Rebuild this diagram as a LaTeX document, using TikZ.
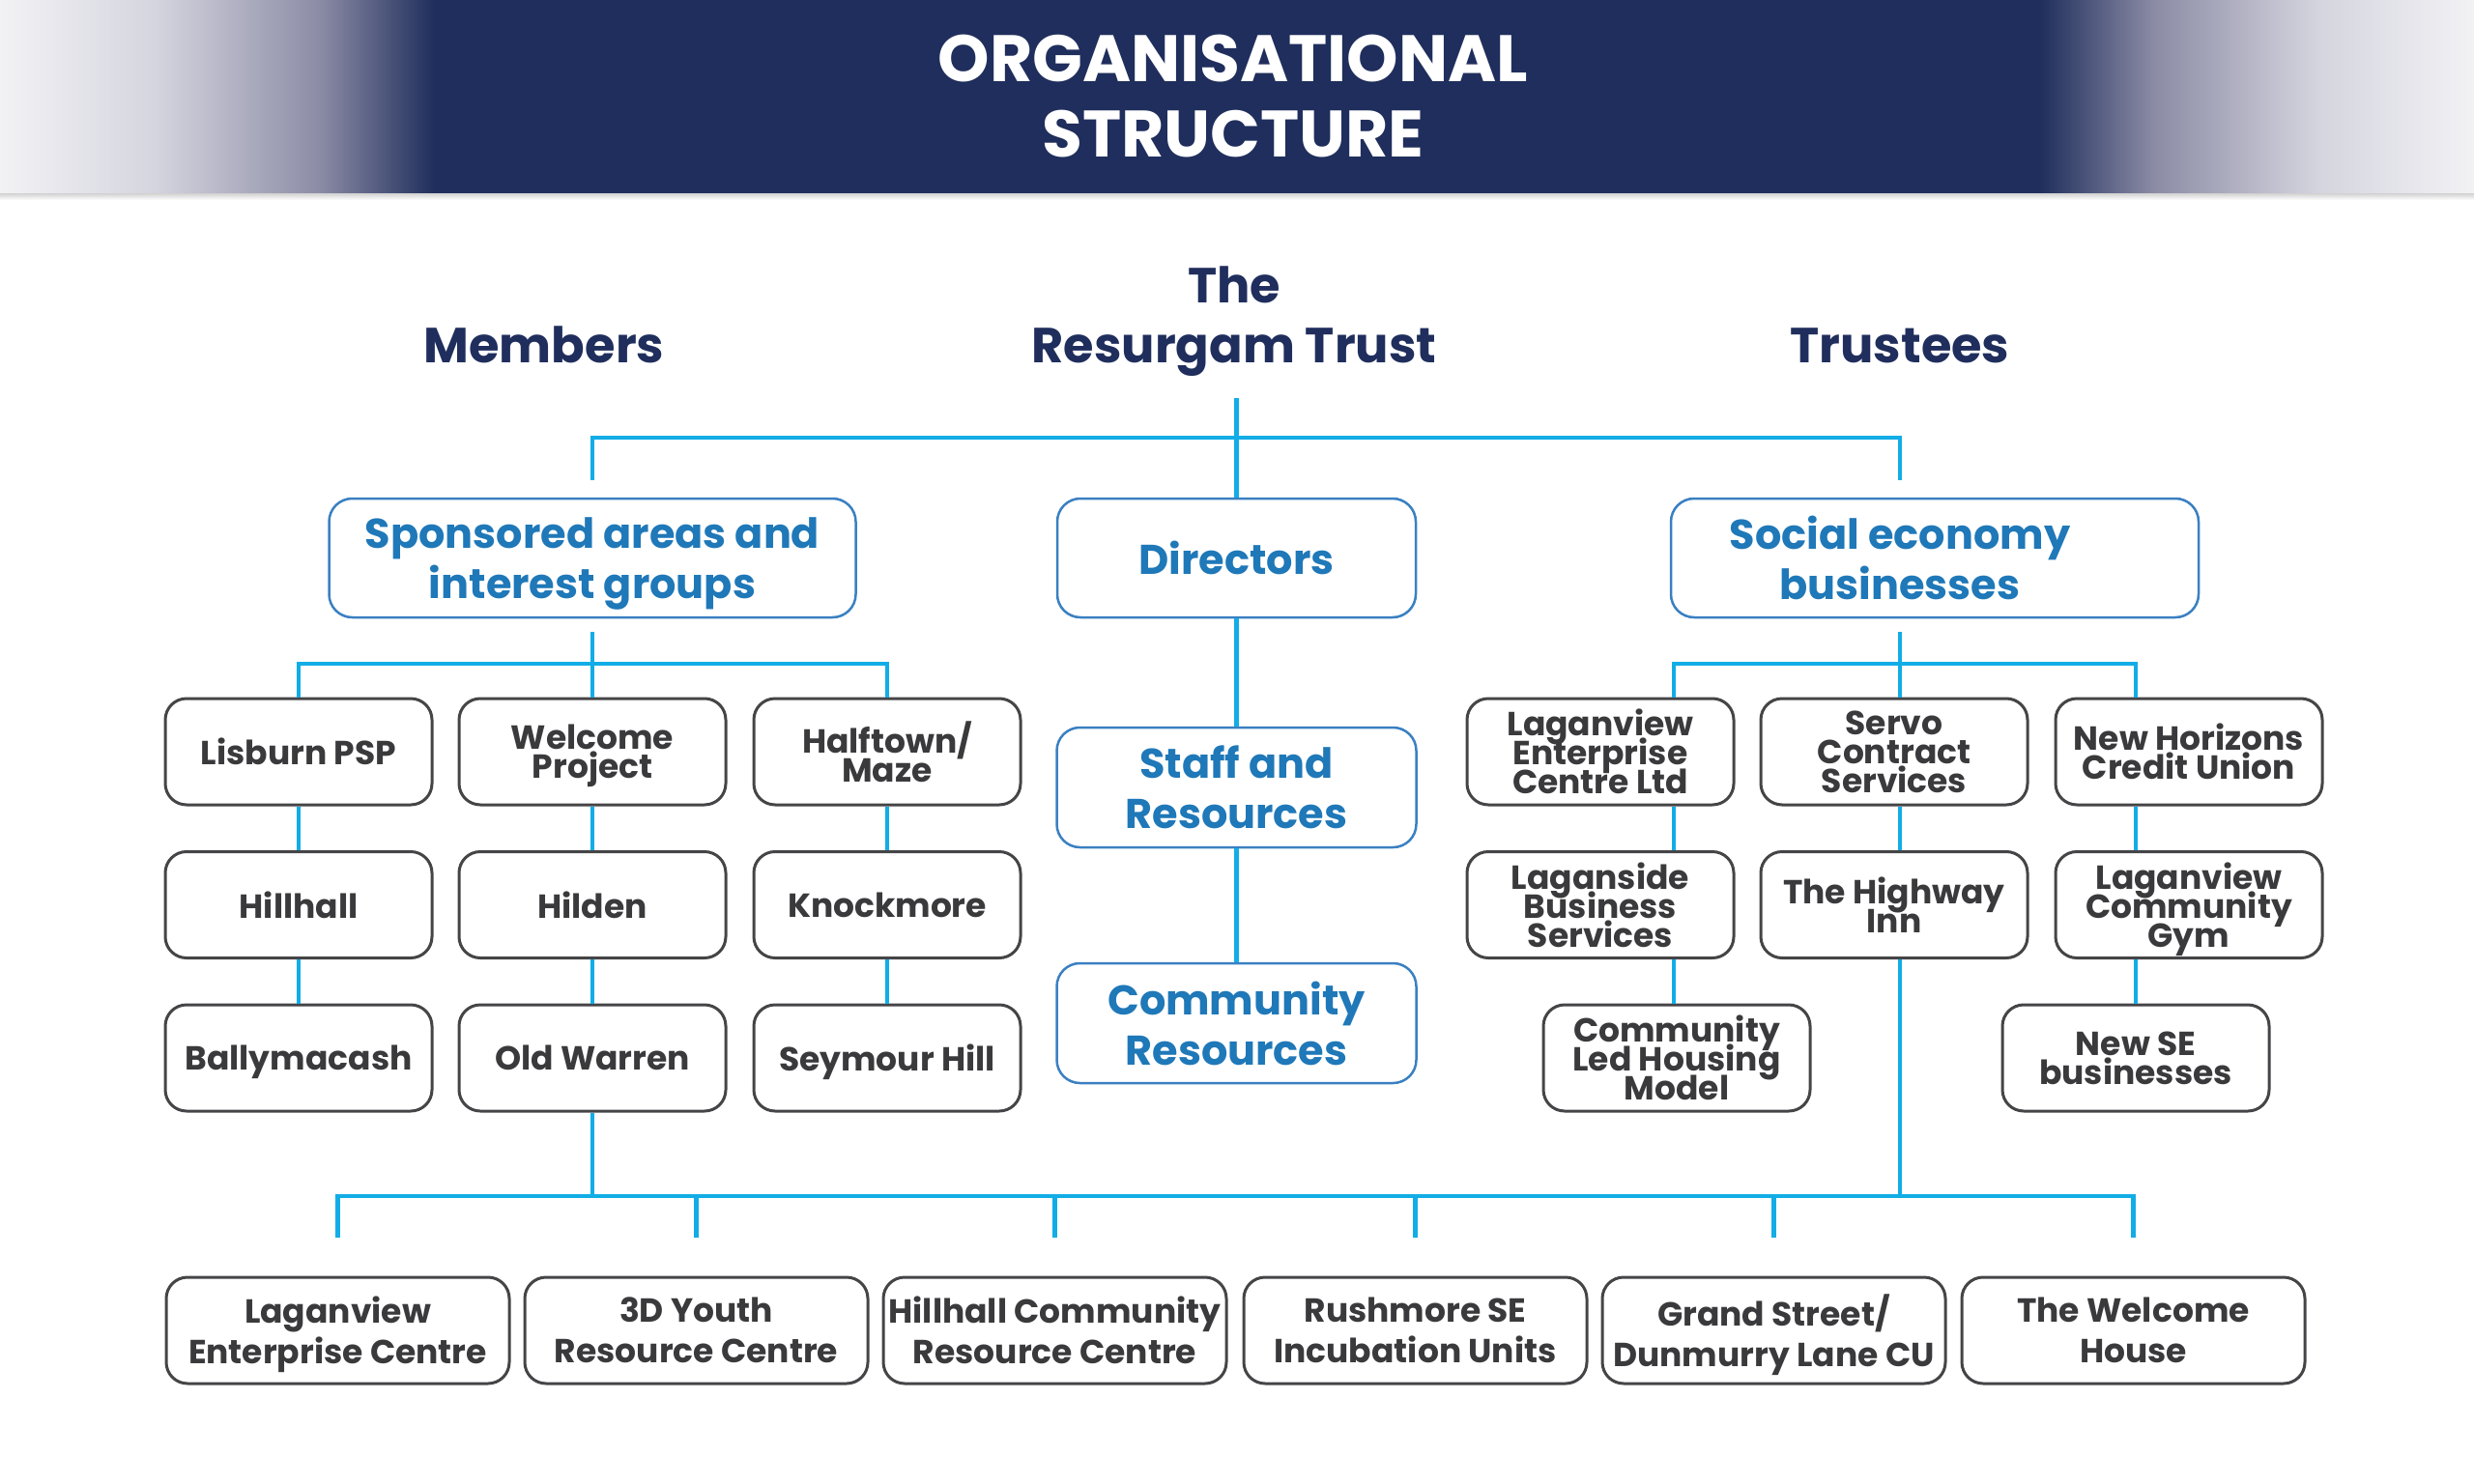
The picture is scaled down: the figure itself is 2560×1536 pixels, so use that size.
\documentclass[tikz,border=0pt]{standalone}
\usepackage{fontspec}
\setmainfont{Poppins}
\usetikzlibrary{calc}
\definecolor{navy}{HTML}{1F2E5C}
\definecolor{cyanline}{HTML}{12ADE6}
\definecolor{boxblue}{HTML}{3A80C2}
\definecolor{txtblue}{HTML}{1F78B8}
\definecolor{txtgray}{HTML}{3A3A3C}
\definecolor{boxgray}{HTML}{454547}
\definecolor{hdA}{HTML}{F2F2F5}
\definecolor{hdB}{HTML}{D5D5DF}
\definecolor{hdC}{HTML}{8C8CA6}
\newcommand{\tightlines}{\lineskiplimit=-1000pt\lineskip=0pt\relax}
\begin{document}
\begin{tikzpicture}[x=1pt,y=-1pt,
  conn/.style={draw=cyanline, line width=4.5pt},
  bluebox/.style={draw=boxblue, line width=2.5pt, rounded corners=24pt, text=txtblue,
    font=\bfseries\fontsize{43}{52}\selectfont\tightlines, align=center, inner sep=0pt,
    minimum height=123pt, text depth=0pt},
  bluetxt/.style={text=txtblue, font=\bfseries\fontsize{43}{52}\selectfont\tightlines, align=center, inner sep=0pt, text depth=0pt},
  gbox/.style={draw=boxgray, line width=3pt, rounded corners=22pt, text=txtgray,
    font=\bfseries\fontsize{34.5}{30}\selectfont\tightlines, align=center,
    minimum width=276pt, minimum height=110pt, inner sep=0pt, text depth=0pt},
  bbox/.style={gbox, minimum width=355pt, font=\bfseries\fontsize{34.5}{42}\selectfont\tightlines},
  head/.style={text=navy, font=\bfseries\fontsize{51}{62}\selectfont, inner sep=0pt, anchor=base},
  ttl/.style={text=white, font=\bfseries\fontsize{68}{78}\selectfont, inner sep=0pt, anchor=base},
]
\useasboundingbox (0,0) rectangle (2560,1536);
\fill[white] (0,0) rectangle (2560,1536);
% header band
\fill[navy] (0,0) rectangle (2560,200);
\shade[left color=hdA, right color=hdB] (0,0) rectangle (160,200);
\shade[left color=hdB, right color=hdC] (160,0) rectangle (330,200);
\shade[left color=hdC, right color=navy] (330,0) rectangle (450,200);
\shade[left color=hdB, right color=hdA] (2400,0) rectangle (2560,200);
\shade[left color=hdC, right color=hdB] (2230,0) rectangle (2400,200);
\shade[left color=navy, right color=hdC] (2110,0) rectangle (2230,200);
\shade[top color=black!18, bottom color=white] (0,200) rectangle (2560,207);
\node[ttl] (t1) at (1276,85) {ORGANISATIONAL};
\node[ttl] (t2) at (1276,163) {STRUCTURE};

% headings
\node[head] (the) at (1277,313) {The};
\node[head] (trust) at (1277,375) {Resurgam Trust};
\node[head] (members) at (563,375) {Members};
\node[head] (trustees) at (1966,375) {Trustees};

% top level boxes
\node[bluebox, minimum width=545pt] (spons) at (613,577.5) {Sponsored areas and\\interest groups};
\node[bluebox, minimum width=371pt] (dir) at (1279.5,577.5) {Directors};
\node[bluebox, minimum width=546pt] (soc) at (2002,577.5) {};
\node[bluetxt] (soclbl) at (1966,577.5) {Social economy\\businesses};
\node[bluebox, minimum width=372pt, minimum height=124pt] (staff) at (1279.5,815) {Staff and\\Resources};
\node[bluebox, minimum width=372pt, minimum height=124pt] (comres) at (1279.5,1059) {Community\\Resources};

% left tree
\node[gbox] (lis) at (309,778) {Lisburn PSP};
\node[gbox] (wel) at (613,778) {Welcome\\Project};
\node[gbox] (half) at (918,778) {Halftown/\\Maze};
\node[gbox] (hill) at (309,936.5) {Hillhall};
\node[gbox] (hild) at (613,936.5) {Hilden};
\node[gbox] (knock) at (918,936.5) {Knockmore};
\node[gbox] (bally) at (309,1095) {Ballymacash};
\node[gbox] (ow) at (613,1095) {Old Warren};
\node[gbox] (sey) at (918,1095) {Seymour Hill};

% right tree
\node[gbox] (lagA) at (1656,778) {Laganview\\Enterprise\\Centre Ltd};
\node[gbox] (servo) at (1960,778) {Servo\\Contract\\Services};
\node[gbox] (nh) at (2265,778) {New Horizons\\Credit Union};
\node[gbox] (lagB) at (1656,936.5) {Laganside\\Business\\Services};
\node[gbox] (hw) at (1960,936.5) {The Highway\\Inn};
\node[gbox] (gym) at (2265,936.5) {Laganview\\Community\\Gym};
\node[gbox] (clhm) at (1735,1095) {Community\\Led Housing\\Model};
\node[gbox] (nse) at (2210,1095) {New SE\\businesses};

% bottom row
\node[bbox] (b1) at (349.5,1377) {Laganview\\Enterprise Centre};
\node[bbox] (b2) at (720.5,1377) {3D Youth\\Resource Centre};
\node[bbox] (b3) at (1091.5,1377) {Hillhall Community\\Resource Centre};
\node[bbox] (b4) at (1464.5,1377) {Rushmore SE\\Incubation Units};
\node[bbox] (b5) at (1835.5,1377) {Grand Street/\\Dunmurry Lane CU};
\node[bbox] (b6) at (2207.5,1377) {The Welcome\\House};

% coordinates
\coordinate (topc) at (1279.5,412);
\coordinate (tbus) at (0,453);
\coordinate (lbus) at (0,687);
\coordinate (bbus) at (0,1238);
\coordinate (rc1) at (1732,0);
\coordinate (rc2) at (1966,0);
\coordinate (rc3) at (2210,0);
\coordinate (socTop) at (soc.north -| soclbl);
\coordinate (socBot) at (soc.south -| soclbl);

% top connectors
\draw[conn] (topc) -- (dir.north);
\draw[conn] ([yshift=18pt]spons.north) -- (spons.north |- tbus) -- (socTop |- tbus) -- ([yshift=18pt]socTop);
\draw[conn] (dir.south) -- (staff.north);
\draw[conn] (staff.south) -- (comres.north);

% left tree connectors
\draw[conn] ([yshift=-14pt]spons.south) -- (wel.north);
\draw[conn] (lis.north) -- (lis.north |- lbus) -- (half.north |- lbus) -- (half.north);
\draw[conn] (lis.south) -- (hill.north);
\draw[conn] (hill.south) -- (bally.north);
\draw[conn] (wel.south) -- (hild.north);
\draw[conn] (hild.south) -- (ow.north);
\draw[conn] (half.south) -- (knock.north);
\draw[conn] (knock.south) -- (sey.north);

% right tree connectors
\draw[conn] ([yshift=-14pt]socBot) -- (servo.north -| rc2);
\draw[conn] (lagA.north -| rc1) -- (rc1 |- lbus) -- (rc3 |- lbus) -- (nh.north -| rc3);
\draw[conn] (lagA.south -| rc1) -- (lagB.north -| rc1);
\draw[conn] (lagB.south -| rc1) -- (clhm.north -| rc1);
\draw[conn] (servo.south -| rc2) -- (hw.north -| rc2);
\draw[conn] (nh.south -| rc3) -- (gym.north -| rc3);
\draw[conn] (gym.south -| rc3) -- (nse.north);

% bottom bus
\draw[conn] (ow.south) -- (ow.south |- bbus);
\draw[conn] (hw.south -| rc2) -- (rc2 |- bbus);
\draw[conn] ([yshift=40pt]b1.north) -- (b1.north |- bbus) -- (b6.north |- bbus) -- ([yshift=40pt]b6.north);
\draw[conn] (b2.north |- bbus) -- ([yshift=40pt]b2.north);
\draw[conn] (b3.north |- bbus) -- ([yshift=40pt]b3.north);
\draw[conn] (b4.north |- bbus) -- ([yshift=40pt]b4.north);
\draw[conn] (b5.north |- bbus) -- ([yshift=40pt]b5.north);
\end{tikzpicture}
\end{document}
